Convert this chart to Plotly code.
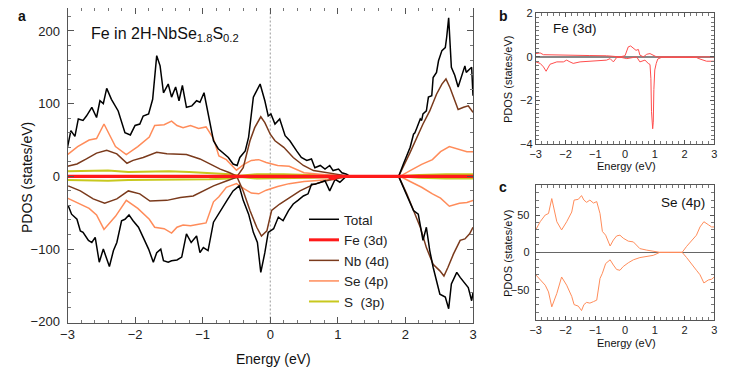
import plotly.graph_objects as go

# ---- panel a : Fe in 2H-NbSe1.8S0.2, spin-resolved PDOS ----
e_tot_up = [-3.00, -2.95, -2.89, -2.84, -2.77, -2.72, -2.64, -2.57, -2.52, -2.47, -2.42, -2.35, -2.25, -2.15,
            -2.07, -2.00, -1.93, -1.88, -1.80, -1.74, -1.68, -1.63, -1.58, -1.51, -1.46, -1.40, -1.35, -1.30,
            -1.24, -1.16, -1.09, -1.04, -0.98, -0.92, -0.84, -0.77, -0.69, -0.62, -0.55, -0.49, -0.45, -0.37,
            -0.32, -0.25, -0.15, -0.08, -0.03, 0.01, 0.07, 0.14, 0.22, 0.29, 0.39, 0.46, 0.54, 0.61, 0.66,
            0.74, 0.81, 0.88, 0.93, 1.01, 1.06, 1.13, 1.18, 1.50, 1.90, 1.97, 2.02, 2.07, 2.12, 2.14, 2.17,
            2.22, 2.24, 2.26, 2.31, 2.34, 2.39, 2.41, 2.46, 2.49, 2.54, 2.59, 2.61, 2.64, 2.68, 2.73, 2.78,
            2.83, 2.88, 2.90, 2.95, 2.98, 3.00]
tot_up = [40, 63, 55, 79, 77, 83, 95, 81, 104, 100, 121, 106, 90, 60,
          57, 70, 72, 83, 86, 106, 166, 152, 115, 127, 109, 123, 104, 125,
          95, 97, 104, 102, 115, 86, 49, 38, 31, 26, 17, 15, 26, 35,
          54, 109, 127, 104, 83, 86, 72, 79, 56, 49, 35, 26, 22, 24, 12,
          15, 10, 15, 8, 10, 5, 3, 0, 0, 0, 17, 28, 40, 58, 60, 67,
          79, 77, 86, 90, 109, 111, 136, 143, 159, 173, 177, 191, 218, 150, 139, 123,
          139, 152, 143, 148, 150, 111]

e_tot_dn = [-2.99, -2.94, -2.86, -2.81, -2.77, -2.69, -2.64, -2.59, -2.53, -2.47, -2.38, -2.32, -2.27, -2.20,
            -2.15, -2.09, -2.03, -1.95, -1.88, -1.80, -1.73, -1.68, -1.62, -1.58, -1.51, -1.46, -1.38, -1.31,
            -1.24, -1.17, -1.09, -1.04, -0.99, -0.92, -0.84, -0.74, -0.64, -0.55, -0.46, -0.40, -0.32, -0.25,
            -0.19, -0.14, -0.08, -0.03, 0.05, 0.12, 0.19, 0.27, 0.34, 0.41, 0.49, 0.56, 0.61, 0.66, 0.74,
            0.81, 0.88, 0.96, 1.03, 1.11, 1.18, 1.50, 1.90, 2.02, 2.12, 2.19, 2.26, 2.31, 2.36, 2.41, 2.46,
            2.51, 2.59, 2.64, 2.68, 2.76, 2.81, 2.88, 2.93, 2.98, 3.00]
tot_dn = [-40, -52, -59, -75, -77, -88, -91, -84, -118, -100, -124, -102, -91, -61,
          -59, -53, -61, -70, -84, -100, -118, -105, -100, -116, -118, -116, -115, -111,
          -79, -91, -82, -105, -98, -102, -63, -47, -33, -20, -13, -33, -52, -77,
          -91, -132, -105, -77, -72, -56, -61, -47, -38, -33, -27, -24, -11, -11, -8,
          -6, -20, -4, -8, -1, 0, 0, 0, -26, -47, -52, -88, -70, -102, -125, -143,
          -162, -166, -182, -148, -132, -139, -148, -153, -171, -160]

e_nb_up = [-3.00, -2.86, -2.72, -2.57, -2.42, -2.27, -2.12, -2.03, -1.88, -1.68, -1.53, -1.38, -1.24, -1.04,
           -0.89, -0.74, -0.60, -0.49, -0.40, -0.30, -0.23, -0.14, -0.08, 0.00, 0.07, 0.20, 0.34, 0.49,
           0.64, 0.83, 1.03, 1.18, 1.50, 1.90, 2.07, 2.17, 2.26, 2.36, 2.46, 2.54, 2.60, 2.66, 2.71,
           2.78, 2.86, 2.93, 3.00]
nb_up = [14, 17, 24, 32, 36, 31, 18, 22, 26, 33, 31, 30, 30, 24,
         17, 10, 5, 0, 12, 49, 67, 82, 74, 58, 49, 40, 26, 15,
         8, 5, 2, 0, 0, 0, 33, 54, 72, 90, 113, 127, 134, 122, 109,
         92, 95, 97, 88]

e_nb_dn = [-2.99, -2.81, -2.62, -2.45, -2.27, -2.10, -1.93, -1.78, -1.53, -1.33, -1.14, -0.99, -0.84, -0.64,
           -0.49, -0.40, -0.30, -0.20, -0.13, -0.05, 0.02, 0.14, 0.29, 0.44, 0.64, 0.83, 1.03, 1.18,
           1.50, 1.90, 2.02, 2.12, 2.22, 2.31, 2.41, 2.51, 2.57, 2.63, 2.71, 2.81, 2.88, 2.95, 3.00]
nb_dn = [-13, -20, -31, -37, -31, -20, -24, -34, -33, -29, -27, -20, -13, -6,
         -1, -20, -47, -70, -82, -75, -47, -38, -29, -20, -11, -6, -2, 0,
         0, 0, -24, -47, -70, -98, -121, -130, -137, -125, -107, -88, -86, -79, -70]

# Se (4p) -- shared by panels a and c
e_se = [-3.00, -2.85, -2.68, -2.57, -2.46, -2.29, -2.13, -1.96, -1.79, -1.71, -1.57, -1.46, -1.38, -1.29,
        -1.18, -1.06, -0.95, -0.84, -0.76, -0.65, -0.50, -0.39, -0.28, -0.17, -0.06, 0.11, 0.28, 0.50,
        0.73, 0.95, 1.17, 1.50, 1.92, 2.07, 2.24, 2.40, 2.52, 2.65, 2.80, 2.91, 3.00]
se_up = [30, 41, 50, 52, 72, 41, 30, 41, 54, 70, 71, 76, 70, 67,
         70, 66, 68, 52, 28, 23, 8.5, 16.5, 22, 23, 19, 15, 14, 5,
         3, 2, 0, 0, 0, 8, 16.5, 23, 34, 41, 37, 34, 34]
se_dn = [-30, -37, -44, -53, -73, -55, -33, -44, -59, -70, -72, -78, -70, -67,
         -68, -66, -64, -35, -28, -15, -10, -17, -23, -24, -19, -14, -10, -7,
         -5, -4, 0, 0, 0, -7, -15, -24, -30, -41, -37, -36, -33]

e_s = [-3.0, -2.7, -2.4, -2.1, -1.8, -1.5, -1.2, -0.9, -0.6, -0.45, -0.2, 0.2, 0.6, 1.0, 1.2, 1.9, 2.2, 2.6, 3.0]
s_up = [7, 8, 8, 6, 7, 7, 6, 5, 3, 1, 3, 3, 2, 1, 0, 0, 2, 3, 3]
s_dn = [-5, -6, -6, -5, -5, -5, -4, -4, -3, -1, -3, -3, -2, -1, 0, 0, -2, -3, -3]

# Fe (3d) -- shared by panels a and b
e_fe_up = [-3.00, -2.85, -2.74, -2.29, -1.74, -1.18, -0.62, -0.17, 0.00, 0.11, 0.19, 0.28, 0.37, 0.45,
           0.50, 0.62, 0.73, 0.84, 0.95, 1.06, 3.00]
fe_up = [0.15, 0.18, 0.10, 0.08, 0.07, 0.06, 0.05, 0.0, 0.05, 0.46, 0.50, 0.38, 0.30, 0.34,
         0.08, 0.0, 0.12, 0.15, 0.08, 0.0, 0.0]
e_fe_dn = [-3.00, -2.85, -2.74, -2.65, -2.52, -2.29, -2.07, -1.96, -1.85, -1.74, -1.51, -1.18, -0.84, -0.62,
           -0.50, -0.39, -0.28, -0.11, 0.06, 0.22, 0.39, 0.50, 0.67, 0.78, 0.84, 0.87, 0.89, 0.93,
           0.95, 0.97, 1.00, 1.05, 1.10, 1.23, 2.40, 2.52, 2.74, 3.00]
fe_dn = [-0.23, -0.30, -0.46, -0.66, -0.34, -0.23, -0.23, -0.15, -0.23, -0.30, -0.23, -0.20, -0.15, -0.15,
         -0.08, -0.23, -0.03, -0.03, -0.08, -0.03, 0.0, -0.23, -0.15, -0.30, -0.35, -1.0, -2.5, -3.3,
         -3.0, -1.5, -0.6, -0.3, -0.1, -0.02, -0.03, -0.10, -0.20, -0.20]

fe_ticks = [-4, -2, 0, 2]

FONT = "Liberation Sans, Arial, Helvetica, sans-serif"
BLACK, RED, BROWN, ORANGE, YELLOW = "#000000", "#ff1a1a", "#7a3a1c", "#ff8c5a", "#c8c81e"
W, H = 740, 367   # page body has an 8px margin, so the figure is drawn 8px in


def px(x):
    return (x - 8) / W


def py(y):
    return 1 - (y - 8) / H


fig = go.Figure()

# panel a (draw order: S, Se, Nb, Total, Fe; legend order by rank)
series = [
    ("S  (3p)", e_s, s_up, e_s, s_dn, YELLOW, 2, 5),
    ("Se (4p)", e_se, se_up, e_se, se_dn, ORANGE, 1.5, 4),
    ("Nb (4d)", e_nb_up, nb_up, e_nb_dn, nb_dn, BROWN, 1.5, 3),
    ("Total", e_tot_up, tot_up, e_tot_dn, tot_dn, BLACK, 1.5, 1),
    ("Fe (3d)", e_fe_up, fe_up, e_fe_dn, fe_dn, RED, 3, 2),
]
for name, xu, yu, xd, yd, col, w, rank in series:
    fig.add_trace(go.Scatter(x=xu, y=yu, mode="lines", name=name, legendrank=rank,
                             line=dict(color=col, width=w), xaxis="x", yaxis="y"))
    fig.add_trace(go.Scatter(x=xd, y=yd, mode="lines", name=name, showlegend=False,
                             line=dict(color=col, width=w), xaxis="x", yaxis="y"))

# panel b
for xx, yy in [(e_fe_up, fe_up), (e_fe_dn, fe_dn)]:
    fig.add_trace(go.Scatter(x=xx, y=yy, mode="lines", showlegend=False,
                             line=dict(color="#ff4d4d", width=1), xaxis="x2", yaxis="y2"))
# panel c
for yy in [se_up, se_dn]:
    fig.add_trace(go.Scatter(x=e_se, y=yy, mode="lines", showlegend=False,
                             line=dict(color=ORANGE, width=1), xaxis="x3", yaxis="y3"))


def ax(domain, rng, size, minor, **kw):
    d = dict(domain=domain, range=rng, showline=True, linecolor="#555", linewidth=1, mirror="allticks",
             ticks="inside", ticklen=6, tickcolor="#555", showgrid=False, zeroline=False, automargin=False,
             ticklabeloverflow="allow", tickfont=dict(size=size, color="#222"),
             minor=dict(ticks="inside", dtick=minor, ticklen=3, tickcolor="#777"))
    d.update(kw)
    return d


def label(text, x, y, size, anchor="center", angle=0, bold=False):
    return dict(text=f"<b>{text}</b>" if bold else text, x=px(x), y=py(y), xref="paper", yref="paper",
                showarrow=False, xanchor=anchor, yanchor="middle", textangle=angle,
                font=dict(size=size, color="#111"))


fig.update_layout(
    width=W, height=H, margin=dict(l=0, r=0, t=0, b=0),
    paper_bgcolor="white", plot_bgcolor="white",
    font=dict(family=FONT, color="#222"),
    xaxis=ax([px(67.5), px(473)], [-3, 3], 13, 0.2, dtick=1, anchor="y"),
    yaxis=ax([py(322.5), 1.0], [-201, 231.6], 13, 20, anchor="x", ticklabelstandoff=4,
             tickvals=[-200, -100, 0, 100, 200]),
    xaxis2=ax([px(535.7), px(714.3)], [-3, 3], 11, 0.2, dtick=1, anchor="y2", ticklen=4,
              mirror="ticks"),
    yaxis2=ax([py(144), py(13.3)], [-4.0, 2.0], 11, 0.2, tickvals=fe_ticks, anchor="x2", ticklen=4,
              ticklabelposition="outside", mirror="ticks",
              zeroline=True, zerolinecolor="#888", zerolinewidth=1.5),
    xaxis3=ax([px(535.7), px(714.3)], [-3, 3], 11, 0.2, dtick=1, anchor="y3", ticklen=4),
    yaxis3=ax([py(320), py(184.7)], [-90.6, 90.6], 11, 10, dtick=50, anchor="x3", ticklen=4,
              ticklabelstandoff=3, zeroline=True, zerolinecolor="#666", zerolinewidth=1.2),
    legend=dict(x=px(304), y=py(204), xanchor="left", yanchor="top", bgcolor="rgba(0,0,0,0)",
                font=dict(size=13.5), itemwidth=30, tracegroupgap=0),
    shapes=[dict(type="line", xref="x", yref="y domain", x0=0, x1=0, y0=0, y1=1,
                 line=dict(color="#999", width=1, dash="2px,2px"), layer="below")],
    annotations=[
        label("a", 16, 16, 14, "left", bold=True),
        label("b", 497, 16, 14, "left", bold=True),
        label("c", 497, 187, 14, "left", bold=True),
        label("Fe in 2H-NbSe<sub>1.8</sub>S<sub>0.2</sub>", 89, 34, 16, "left"),
        label("Fe (3d)", 551, 29, 13.5, "left"),
        label("Se (4p)", 707, 202, 13.5, "right"),
        label("Energy (eV)", 273, 359, 14),
        label("PDOS (states/eV)", 27, 178, 14, angle=-90),
        label("Energy (eV)", 626, 166, 11),
        label("PDOS (states/eV)", 508, 80, 11, angle=-90),
        label("Energy (eV)", 626, 343, 11),
        label("PDOS (states/eV)", 508, 254, 11, angle=-90),
    ],
)

fig.write_html("out.html")
